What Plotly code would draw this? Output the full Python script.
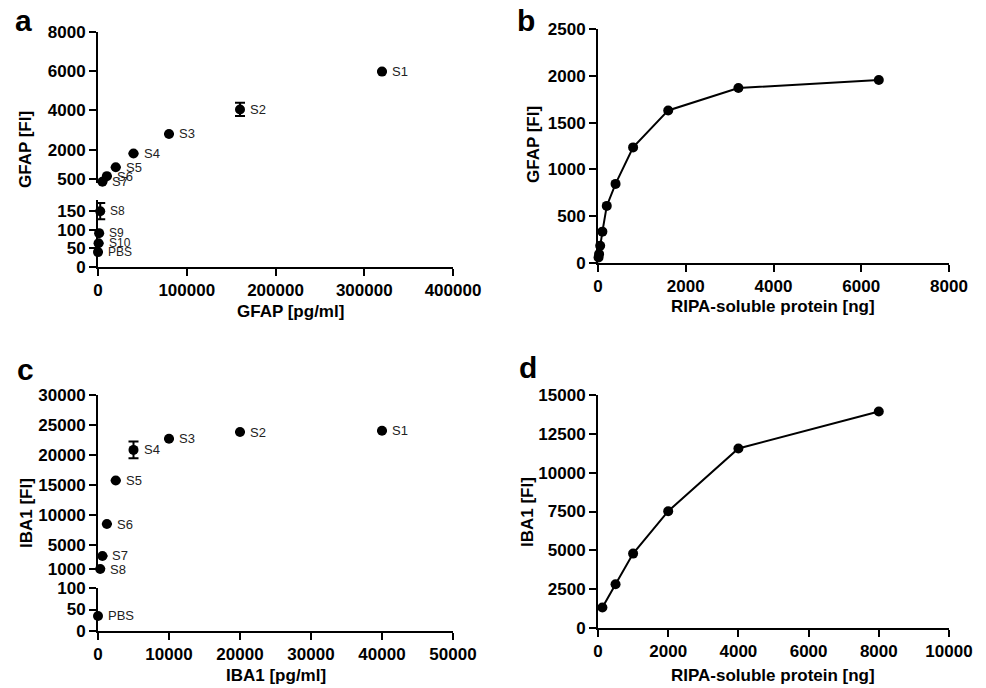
import plotly.graph_objects as go

# ---------------- data ----------------
# Panel a: GFAP standard curve (upper segment of broken axis)
a_hi_labels = ["S1", "S2", "S3", "S4", "S5", "S6", "S7"]
a_hi_x = [320000, 160000, 80000, 40000, 20000, 10000, 5000]
a_hi_y = [5980, 4050, 2800, 1800, 1100, 650, 360]
a_hi_err = [0, 340, 0, 0, 0, 0, 0]
# Panel a lower segment
a_lo_labels = ["S8", "S9", "S10", "PBS"]
a_lo_x = [2500, 1250, 625, 0]
a_lo_y = [150, 91, 64, 40]
a_lo_err = [22, 0, 0, 0]
a_x_ticks = [0, 100000, 200000, 300000, 400000]
a_hi_ticks = [500, 2000, 4000, 6000, 8000]
a_lo_ticks = [0, 50, 100, 150]

# Panel b: GFAP vs RIPA-soluble protein
b_x = [6400, 3200, 1600, 800, 400, 200, 100, 50, 25, 12.5]
b_y = [1955, 1870, 1630, 1235, 845, 610, 335, 185, 95, 60]
b_x_ticks = [0, 2000, 4000, 6000, 8000]
b_y_ticks = [0, 500, 1000, 1500, 2000, 2500]

# Panel c: IBA1 standard curve
c_hi_labels = ["S1", "S2", "S3", "S4", "S5", "S6", "S7", "S8"]
c_hi_x = [40000, 20000, 10000, 5000, 2500, 1250, 625, 312]
c_hi_y = [24050, 23830, 22700, 20850, 15750, 8500, 3170, 1000]
c_hi_err = [0, 0, 0, 1390, 0, 0, 0, 0]
c_lo_labels = ["PBS"]
c_lo_x = [0]
c_lo_y = [35]
c_x_ticks = [0, 10000, 20000, 30000, 40000, 50000]
c_hi_ticks = [1000, 5000, 10000, 15000, 20000, 25000, 30000]
c_lo_ticks = [0, 50, 100]

# Panel d: IBA1 vs RIPA-soluble protein
d_x = [8000, 4000, 2000, 1000, 500, 125]
d_y = [13940, 11560, 7520, 4790, 2815, 1315]
d_x_ticks = [0, 2000, 4000, 6000, 8000, 10000]
d_y_ticks = [0, 2500, 5000, 7500, 10000, 12500, 15000]

# ---------------- figure ----------------
W, H = 986, 688
FONT = "Liberation Sans, Arial, sans-serif"


def px_x(p):
    return p / W


def px_y(p):
    return 1 - p / H


fig = go.Figure()

marker = dict(color="black", size=10, symbol="circle")


def scatter(x, y, xa, ya, err=None, mode="markers"):
    kw = dict(x=x, y=y, xaxis=xa, yaxis=ya, mode=mode, marker=marker,
              line=dict(color="black", width=2), cliponaxis=False,
              showlegend=False, hoverinfo="x+y")
    if err is not None:
        kw["error_y"] = dict(type="data", array=err, visible=True,
                             color="black", thickness=2, width=5)
    fig.add_trace(go.Scatter(**kw))


def labels(names, x, y, xa, ya, size=13):
    for n, xv, yv in zip(names, x, y):
        fig.add_annotation(x=xv, y=yv, xref=xa, yref=ya, text=n,
                           showarrow=False, xanchor="left", yanchor="middle",
                           xshift=8, font=dict(family=FONT, size=size, color="#222"))


scatter(a_hi_x, a_hi_y, "x", "y2", a_hi_err)
scatter(a_lo_x, a_lo_y, "x", "y", a_lo_err)
labels(a_hi_labels, a_hi_x, a_hi_y, "x", "y2")
labels(a_lo_labels, a_lo_x, a_lo_y, "x", "y", size=12)

scatter(b_x, b_y, "x2", "y3", mode="lines+markers")

scatter(c_hi_x, c_hi_y, "x3", "y5", c_hi_err)
scatter(c_lo_x, c_lo_y, "x3", "y4")
labels(c_hi_labels, c_hi_x, c_hi_y, "x3", "y5")
labels(c_lo_labels, c_lo_x, c_lo_y, "x3", "y4")

scatter(d_x, d_y, "x4", "y6", mode="lines+markers")

tickfont = dict(family=FONT, size=17, color="black", weight="bold")
axis_common = dict(showline=True, linecolor="black", linewidth=2,
                   ticks="outside", ticklen=7, tickwidth=2, tickcolor="black",
                   showgrid=False, zeroline=False, tickfont=tickfont,
                   fixedrange=True, automargin=False)


def xa(domain, rng, ticks, anchor):
    return dict(axis_common, domain=domain, range=rng, tickvals=ticks,
                ticktext=[str(t) for t in ticks], anchor=anchor)


def ya(domain, rng, ticks, anchor):
    return dict(axis_common, domain=domain, range=rng, tickvals=ticks,
                ticktext=[str(t) for t in ticks], anchor=anchor)


fig.update_layout(
    width=W, height=H,
    margin=dict(l=0, r=0, t=0, b=0, autoexpand=False),
    paper_bgcolor="white", plot_bgcolor="white",
    xaxis=xa([px_x(98), px_x(453)], [0, 400000], a_x_ticks, "y"),
    yaxis=ya([px_y(267), px_y(200)], [0, 180], a_lo_ticks, "x"),
    yaxis2=ya([px_y(182.6), px_y(32)], [320, 8000], a_hi_ticks, "x"),
    xaxis2=xa([px_x(598), px_x(949)], [0, 8000], b_x_ticks, "y3"),
    yaxis3=ya([px_y(263), px_y(29)], [0, 2500], b_y_ticks, "x2"),
    xaxis3=xa([px_x(98), px_x(453)], [0, 50000], c_x_ticks, "y4"),
    yaxis4=ya([px_y(631), px_y(588)], [0, 100], c_lo_ticks, "x3"),
    yaxis5=ya([px_y(569), px_y(395)], [1000, 30000], c_hi_ticks, "x3"),
    xaxis4=xa([px_x(598), px_x(949)], [0, 10000], d_x_ticks, "y6"),
    yaxis6=ya([px_y(628), px_y(395)], [0, 15000], d_y_ticks, "x4"),
)

title_font = dict(family=FONT, size=17, color="black", weight="bold")


def ann(x, y, text, angle=0, font=title_font):
    fig.add_annotation(x=px_x(x), y=px_y(y), xref="paper", yref="paper",
                       text=text, showarrow=False, textangle=angle,
                       xanchor="center", yanchor="middle", font=font)


# axis titles
ann(290, 311, "GFAP [pg/ml]")
ann(26, 150, "GFAP [FI]", -90)
ann(773, 306, "RIPA-soluble protein [ng]")
ann(533, 145, "GFAP [FI]", -90)
ann(276, 675, "IBA1 [pg/ml]")
ann(26, 513, "IBA1 [FI]", -90)
ann(773, 675, "RIPA-soluble protein [ng]")
ann(527, 512, "IBA1 [FI]", -90)

# panel letters
letter_font = dict(family=FONT, size=30, color="black", weight="bold")
ann(23, 21, "a", font=letter_font)
ann(526, 21, "b", font=letter_font)
ann(25, 370, "c", font=letter_font)
ann(528, 368, "d", font=letter_font)

# remove the default 8px page margin so the figure fills the window exactly
fig.write_html("out.html", config={"displayModeBar": False},
               post_script="document.body.style.margin='0';")
